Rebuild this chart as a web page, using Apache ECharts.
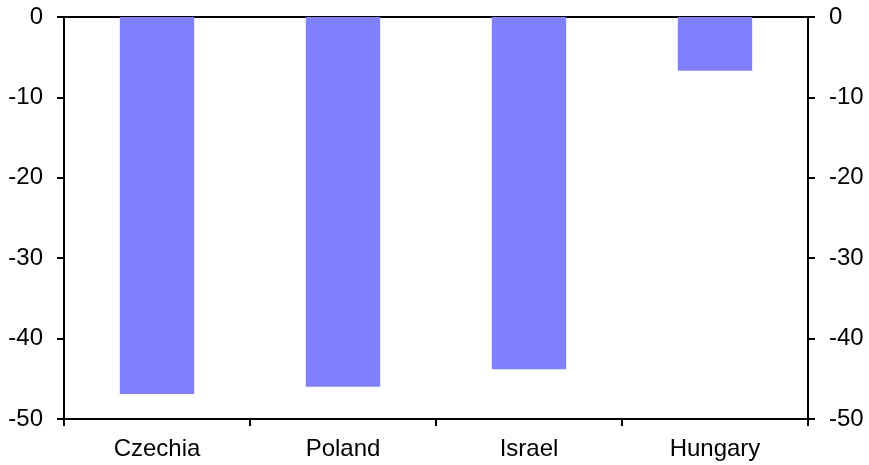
<!DOCTYPE html>
<html>
<head>
<meta charset="utf-8">
<script src="https://cdn.jsdelivr.net/npm/echarts@6/dist/echarts.min.js"></script>
<style>
  html, body { margin: 0; padding: 0; background: #fff; }
  #main { width: 869px; height: 465px; }
</style>
</head>
<body>
<div id="main"></div>
<script>
// data
var countries = ['Czechia', 'Poland', 'Israel', 'Hungary'];
var values = [-46.9, -46.0, -43.8, -6.7];
var yTicks = [-50, -40, -30, -20, -10, 0];

var chart = echarts.init(document.getElementById('main'));

var fontBase = { fontFamily: 'Liberation Sans, Arial, sans-serif', fontSize: 24, color: '#000' };
var lineStyle = { color: '#000', width: 2 };

function yAxis(pos) {
  return {
    type: 'value',
    position: pos,
    min: yTicks[0],
    max: yTicks[yTicks.length - 1],
    interval: 10,
    axisLine: { show: true, lineStyle: lineStyle },
    axisTick: { show: true, length: 7, lineStyle: lineStyle },
    axisLabel: Object.assign({ margin: 21 }, fontBase),
    splitLine: { show: false }
  };
}

chart.setOption({
  animation: false,
  grid: { left: 64, right: 61, top: 17, bottom: 46 },
  xAxis: [
    {
      type: 'category',
      data: countries,
      position: 'bottom',
      axisLine: { onZero: false, lineStyle: lineStyle },
      axisTick: { show: true, length: 7, lineStyle: lineStyle },
      axisLabel: Object.assign({ margin: 18 }, fontBase)
    },
    {
      type: 'category',
      data: countries,
      position: 'top',
      axisLine: { onZero: false, lineStyle: lineStyle },
      axisTick: { show: false },
      axisLabel: { show: false }
    }
  ],
  yAxis: [yAxis('left'), yAxis('right')],
  series: [{
    type: 'bar',
    data: values,
    barWidth: '40%',
    itemStyle: { color: '#8080FF' }
  }]
});
</script>
</body>
</html>
